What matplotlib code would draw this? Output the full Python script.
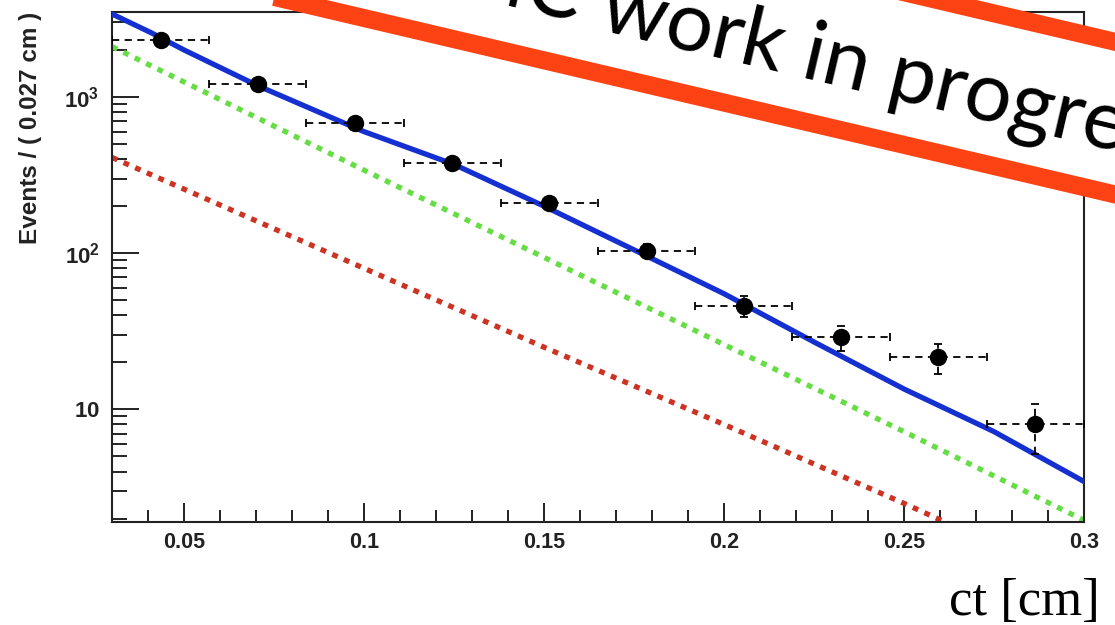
import numpy as np
import matplotlib
matplotlib.use('Agg')
import matplotlib.pyplot as plt
import matplotlib.ticker as tic
import matplotlib.patches as pat
from matplotlib.transforms import IdentityTransform

plt.rcParams['font.family'] = 'Liberation Sans'
plt.rcParams['mathtext.fontset'] = 'custom'
plt.rcParams['mathtext.rm'] = 'Liberation Sans'
plt.rcParams['mathtext.bf'] = 'Liberation Sans:bold'

# binned data (bin width 0.027 cm)
bin_c = [0.0435, 0.0705, 0.0975, 0.1245, 0.1515, 0.1785, 0.2055, 0.2325, 0.2595, 0.2865]
bin_w = 0.027
events = [2320, 1210, 680, 378, 209, 104, 46, 29, 21.5, 8.0]
ev_err = [48, 35, 26, 19.4, 14.5, 10.2, 6.8, 5.4, 4.6, 2.8]

# fit curves
fit_x = [0.03, 0.041, 0.05, 0.0705, 0.1, 0.125, 0.15, 0.175, 0.2, 0.225, 0.25, 0.275, 0.3]
fit_tot = [3400, 2570, 2000, 1180, 600, 370, 200, 105, 55, 27, 13.5, 7.2, 3.45]
sig_x = [0.03, 0.1, 0.15, 0.2, 0.25, 0.3]
sig_y = [2100, 340, 94, 26, 7.2, 1.95]
bkg_x = [0.03, 0.1, 0.15, 0.2, 0.25, 0.3]
bkg_y = [410, 80, 25, 8, 2.5, 0.75]

W, H = 1115, 625
fig = plt.figure(figsize=(W/100, H/100), dpi=100)
ax = fig.add_axes([112/W, 1-522/H, 972/W, 510/H])
ax.set_yscale('log')

ax.plot(bkg_x, bkg_y, color='#cc3322', lw=3.8, ls=(0, (1.1, 1.3)), zorder=2)
ax.plot(sig_x, sig_y, color='#66dd44', lw=3.8, ls=(0, (1.1, 1.3)), zorder=2)
ax.plot(fit_x, fit_tot, color='#1530d0', lw=3.8, zorder=3)

eb = ax.errorbar(bin_c, events, xerr=bin_w/2, yerr=ev_err, fmt='o', color='black',
                 ms=11.5, elinewidth=1.3, capsize=3, capthick=1.3, zorder=4)
for bc in eb[2]:
    bc.set_linestyle((0, (4, 3)))

ax.set_xlim(0.03, 0.3)
ax.set_ylim(1.9, 3500)

ax.xaxis.set_major_locator(tic.MultipleLocator(0.05))
ax.xaxis.set_minor_locator(tic.MultipleLocator(0.01))
ax.xaxis.set_major_formatter(tic.FuncFormatter(lambda v, p: '{:g}'.format(round(v, 3))))
ax.yaxis.set_major_locator(tic.LogLocator(base=10))
ax.yaxis.set_minor_locator(tic.LogLocator(base=10, subs=np.arange(2, 10), numticks=20))
ax.yaxis.set_minor_formatter(tic.NullFormatter())

def ylab(v, p):
    e = int(round(np.log10(v)))
    if e == 1:
        return r'$\mathbf{10}$'
    return r'$\mathbf{10^{%d}}$' % e

ax.yaxis.set_major_formatter(tic.FuncFormatter(ylab))

ax.tick_params(axis='x', which='major', direction='in', length=13.5, width=1.4, pad=7,
               labelsize=15.5, colors='#222222')
ax.tick_params(axis='x', which='minor', direction='in', length=8.5, width=1.4, colors='#222222')
ax.tick_params(axis='y', which='major', direction='in', length=19.5, width=1.4, pad=9,
               labelsize=16, colors='#222222')
ax.tick_params(axis='y', which='minor', direction='in', length=10.8, width=1.4, colors='#222222')
for lab in ax.get_xticklabels():
    lab.set_fontweight('bold')
for s in ax.spines.values():
    s.set_linewidth(1.5)
    s.set_color('#222222')

ax.set_ylabel('Events / ( 0.027 cm )', loc='top', fontsize=17.5, fontweight='bold', color='#222222')
ax.yaxis.set_label_coords(-70/972, 1.0)

fig.text(1100/W, 10/H, 'ct [cm]', family='Liberation Serif', fontsize=38, ha='right', va='baseline')

# "work in progress" banner
ang = -13.22
band = pat.Rectangle((283, 626), 1000, 148.6, angle=ang, facecolor='white',
                     edgecolor='#fd4314', lw=13, transform=IdentityTransform(), zorder=5)
fig.add_artist(band)
fig.text(598, 596, 'work in progress', transform=IdentityTransform(), family='Lato',
         fontsize=60, rotation=ang, rotation_mode='anchor', ha='left', va='baseline', zorder=6)
fig.text(576, 601, 'MC', transform=IdentityTransform(), family='Lato',
         fontsize=60, rotation=ang, rotation_mode='anchor', ha='right', va='baseline', zorder=6)

fig.savefig('out.png', dpi=100, facecolor='white')
